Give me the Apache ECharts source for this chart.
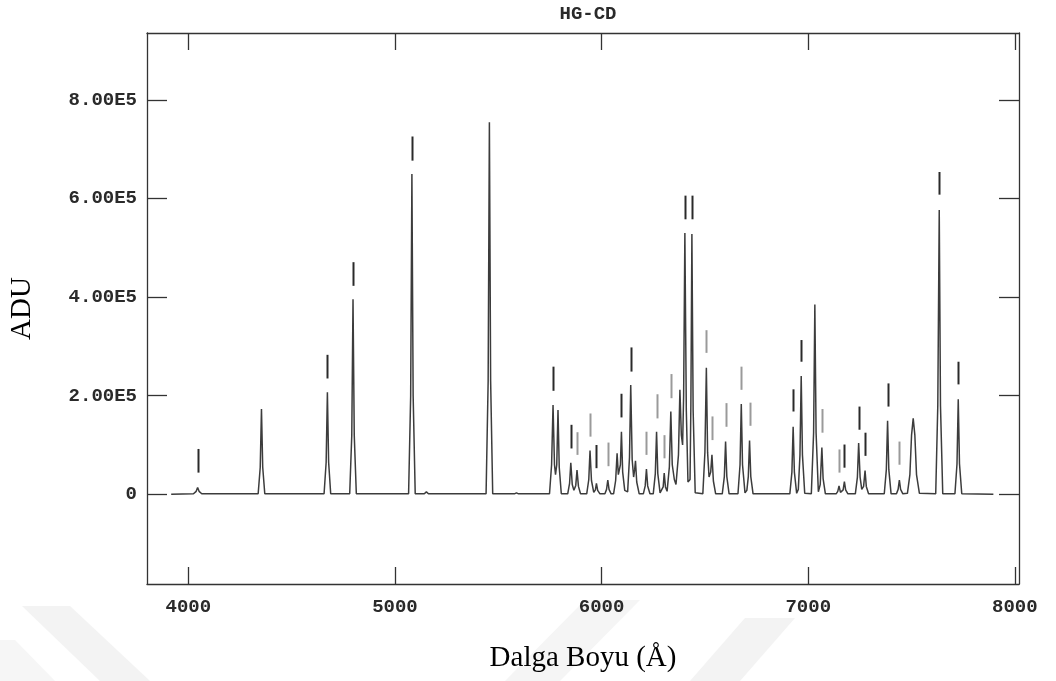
<!DOCTYPE html>
<html>
<head>
<meta charset="utf-8">
<script src="https://cdn.jsdelivr.net/npm/echarts@6/dist/echarts.min.js"></script>
<style>html,body{margin:0;padding:0;background:#fff;}#c{width:1056px;height:681px;}</style>
</head>
<body>
<div id="c"></div>
<script>
// ---- data ----
const chartTitle = 'HG-CD';
const xName = 'Dalga Boyu (Å)';
const yName = 'ADU';
const xTickValues = [4000, 5000, 6000, 7000, 8000];
const xTickLabels = ['4000', '5000', '6000', '7000', '8000'];
const yTickValues = [0, 200000, 400000, 600000, 800000];
const yTickLabels = ['0', '2.00E5', '4.00E5', '6.00E5', '8.00E5'];

// spectrum: wavelength (Å) and counts (ADU)
const waves = [
  3917, 4025, 4038, 4045, 4052, 4065,
  4338, 4348, 4354, 4360, 4370,
  4657, 4667, 4673, 4679, 4689,
  4781, 4791, 4797, 4803, 4813,
  5066, 5076, 5082, 5088, 5098,
  5142, 5152, 5162,
  5441, 5451, 5457, 5463, 5473,
  5578, 5588, 5598,
  5748, 5758, 5765, 5772, 5777, 5783, 5789, 5795, 5805,
  5836, 5845, 5851, 5858, 5866, 5875, 5881, 5888, 5898,
  5928, 5938, 5944, 5951, 5962, 5970, 5975, 5981, 5992,
  6016, 6024, 6030, 6036, 6046,
  6058, 6068, 6075, 6081, 6086, 6091, 6096, 6102, 6112,
  6126, 6135, 6141, 6148, 6155, 6160, 6164, 6170, 6182,
  6202, 6211, 6217, 6223, 6234,
  6250, 6260, 6266, 6272, 6283,
  6291, 6298, 6303, 6309, 6317, 6328, 6335, 6342, 6352,
  6360, 6372, 6379, 6386, 6392, 6397, 6403, 6410, 6418, 6428, 6432, 6437, 6443, 6453,
  6490, 6500, 6507, 6513, 6520, 6528, 6534, 6541, 6552,
  6584, 6594, 6600, 6606, 6617,
  6660, 6670, 6676, 6682, 6694, 6703, 6710, 6716, 6722, 6733,
  6911, 6921, 6927, 6933, 6944, 6952, 6960, 6966, 6972, 6983,
  7015, 7026, 7032, 7038, 7049, 7058, 7066, 7072, 7083,
  7135, 7143, 7149, 7156, 7163, 7169, 7175, 7181, 7192,
  7228, 7238, 7244, 7251, 7259, 7268, 7275, 7281, 7292,
  7330, 7339, 7348,
  7368, 7378, 7384, 7390, 7401,
  7427, 7435, 7441, 7447, 7458,
  7480, 7492, 7500, 7508, 7516, 7524, 7538,
  7617, 7627, 7634, 7640, 7651,
  7710, 7720, 7726, 7732, 7743,
  7896
];
const counts = [
  0, 1000, 6000, 14000, 6000, 1000,
  1000, 55000, 173000, 55000, 1000,
  1000, 65000, 207000, 65000, 1000,
  1000, 120000, 396000, 120000, 1000,
  1000, 200000, 650000, 200000, 1000,
  1000, 5000, 1000,
  1000, 230000, 755000, 230000, 1000,
  1000, 3000, 1000,
  1000, 60000, 181000, 60000, 40000, 60000, 171000, 55000, 1000,
  1000, 22000, 64000, 20000, 8000, 18000, 49000, 16000, 1000,
  1000, 30000, 89000, 28000, 4000, 9000, 22000, 8000, 1000,
  1000, 10000, 29000, 10000, 1000,
  1000, 28000, 83000, 40000, 38000, 60000, 127000, 45000, 8000,
  5000, 75000, 222000, 70000, 35000, 50000, 68000, 25000, 1000,
  1000, 17000, 51000, 17000, 1000,
  1000, 42000, 127000, 42000, 3000,
  3000, 15000, 43000, 15000, 6000, 56000, 168000, 60000, 30000,
  20000, 80000, 212000, 120000, 100000, 200000, 530000, 170000, 25000, 30000, 180000, 528000, 170000, 3000,
  1000, 85000, 257000, 85000, 35000, 45000, 80000, 27000, 1000,
  1000, 36000, 107000, 36000, 1000,
  1000, 60000, 183000, 60000, 3000, 8000, 36000, 109000, 36000, 1000,
  1000, 45000, 137000, 45000, 2000, 10000, 80000, 240000, 80000, 2000,
  1000, 125000, 385000, 125000, 5000, 20000, 95000, 32000, 1000,
  1000, 6000, 17000, 4000, 3000, 9000, 26000, 9000, 1000,
  1000, 35000, 104000, 35000, 10000, 16000, 48000, 16000, 1000,
  1000, 4000, 1000,
  1000, 50000, 149000, 50000, 1000,
  1000, 10000, 29000, 10000, 1000,
  2000, 40000, 120000, 154000, 120000, 40000, 2000,
  1000, 180000, 577000, 180000, 1000,
  1000, 62000, 193000, 62000, 1000,
  0
];

// line identification marks: wavelength, lower end, upper end
const markWavesDark  = [4045, 4673, 4797, 5082, 5765, 5851, 5975, 6096, 6141, 6403, 6437, 6927, 6966, 7175, 7244, 7275, 7384, 7634, 7726];
const markLowDark    = [44000, 235000, 423000, 677000, 210000, 93000, 53000, 156000, 249000, 558000, 558000, 168000, 269000, 54000, 131000, 78000, 178000, 608000, 223000];
const markHighDark   = [92000, 283000, 471000, 726000, 259000, 141000, 100000, 204000, 298000, 606000, 606000, 213000, 313000, 101000, 178000, 125000, 225000, 654000, 269000];
const markWavesLight = [5881, 5944, 6030, 6217, 6266, 6303, 6335, 6507, 6534, 6600, 6676, 6716, 7066, 7149, 7441];
const markLowLight   = [80000, 117000, 57000, 80000, 154000, 73000, 195000, 287000, 110000, 137000, 212000, 139000, 125000, 44000, 60000];
const markHighLight  = [126000, 164000, 105000, 127000, 203000, 120000, 244000, 333000, 158000, 185000, 259000, 186000, 173000, 91000, 107000];

// ---- chart ----
const spectrum = waves.map((w, i) => [w, counts[i]]);
const marksDark = markWavesDark.map((w, i) => [w, markLowDark[i], markHighDark[i]]);
const marksLight = markWavesLight.map((w, i) => [w, markLowLight[i], markHighLight[i]]);

function markRenderer(color) {
  return function (params, api) {
    const p0 = api.coord([api.value(0), api.value(1)]);
    const p1 = api.coord([api.value(0), api.value(2)]);
    return {
      type: 'line',
      shape: { x1: Math.round(p0[0]) + 0.5, y1: p0[1], x2: Math.round(p1[0]) + 0.5, y2: p1[1] },
      style: { stroke: color, lineWidth: 2 }
    };
  };
}

const monoFont = 'Liberation Mono';
const axisLineStyle = { color: '#333', width: 1.3 };
const xRange = { min: 3800, max: 8020 };
const yRange = { min: -182000, max: 936000 };
const tickFont = { fontFamily: monoFont, fontWeight: 'bold', fontSize: 19, color: '#2a2a2a' };

const chart = echarts.init(document.getElementById('c'), null, { renderer: 'canvas' });
chart.setOption({
  animation: false,
  backgroundColor: '#fff',
  title: {
    text: chartTitle,
    left: 583, top: 0, textAlign: 'center',
    textStyle: { fontFamily: monoFont, fontWeight: 'bold', fontSize: 19, color: '#2a2a2a' }
  },
  graphic: [
    { type: 'polygon', z: -10, silent: true, shape: { points: [[22, 606], [70, 606], [150, 681], [100, 681]] }, style: { fill: '#f3f3f3' } },
    { type: 'polygon', z: -10, silent: true, shape: { points: [[0, 640], [15, 640], [55, 681], [0, 681]] }, style: { fill: '#f6f6f6' } },
    { type: 'polygon', z: -10, silent: true, shape: { points: [[505, 681], [560, 681], [640, 600], [585, 600]] }, style: { fill: '#f5f5f5' } },
    { type: 'polygon', z: -10, silent: true, shape: { points: [[690, 681], [740, 681], [795, 618], [745, 618]] }, style: { fill: '#f3f3f3' } }
  ],
  grid: { left: 147, right: 37, top: 33, bottom: 97, containLabel: false },
  xAxis: [
    {
      type: 'value', position: 'bottom', ...xRange,
      name: xName, nameLocation: 'middle', nameGap: 60,
      nameTextStyle: { fontFamily: 'Liberation Serif', fontSize: 29, color: '#000' },
      axisLine: { show: true, onZero: false, lineStyle: axisLineStyle },
      axisTick: { show: true, inside: true, length: 17, customValues: xTickValues, lineStyle: axisLineStyle },
      axisLabel: {
        show: true, customValues: xTickValues, margin: 14, ...tickFont,
        formatter: v => { const i = xTickValues.indexOf(v); return i >= 0 ? xTickLabels[i] : ''; }
      },
      splitLine: { show: false }
    },
    {
      type: 'value', position: 'top', ...xRange,
      axisLine: { show: true, onZero: false, lineStyle: axisLineStyle },
      axisTick: { show: true, inside: true, length: 17, customValues: xTickValues, lineStyle: axisLineStyle },
      axisLabel: { show: false },
      splitLine: { show: false }
    }
  ],
  yAxis: [
    {
      type: 'value', position: 'left', ...yRange,
      name: yName, nameLocation: 'middle', nameGap: 110, nameRotate: 90,
      nameTextStyle: { fontFamily: 'Liberation Serif', fontSize: 29, color: '#000' },
      axisLine: { show: true, onZero: false, lineStyle: axisLineStyle },
      axisTick: { show: true, inside: true, length: 20, customValues: yTickValues, lineStyle: axisLineStyle },
      axisLabel: {
        show: true, customValues: yTickValues, margin: 10, ...tickFont,
        formatter: v => { const i = yTickValues.indexOf(v); return i >= 0 ? yTickLabels[i] : ''; }
      },
      splitLine: { show: false }
    },
    {
      type: 'value', position: 'right', ...yRange,
      axisLine: { show: true, onZero: false, lineStyle: axisLineStyle },
      axisTick: { show: true, inside: true, length: 20, customValues: yTickValues, lineStyle: axisLineStyle },
      axisLabel: { show: false },
      splitLine: { show: false }
    }
  ],
  series: [
    {
      type: 'line', xAxisIndex: 0, yAxisIndex: 0,
      data: spectrum, showSymbol: false, smooth: false,
      lineStyle: { color: '#3c3c3c', width: 1.5 }
    },
    {
      type: 'custom', xAxisIndex: 0, yAxisIndex: 0,
      data: marksDark, encode: { x: 0, y: [1, 2] },
      renderItem: markRenderer('#2a2a2a')
    },
    {
      type: 'custom', xAxisIndex: 0, yAxisIndex: 0,
      data: marksLight, encode: { x: 0, y: [1, 2] },
      renderItem: markRenderer('#9a9a9a')
    }
  ]
});
</script>
</body>
</html>
